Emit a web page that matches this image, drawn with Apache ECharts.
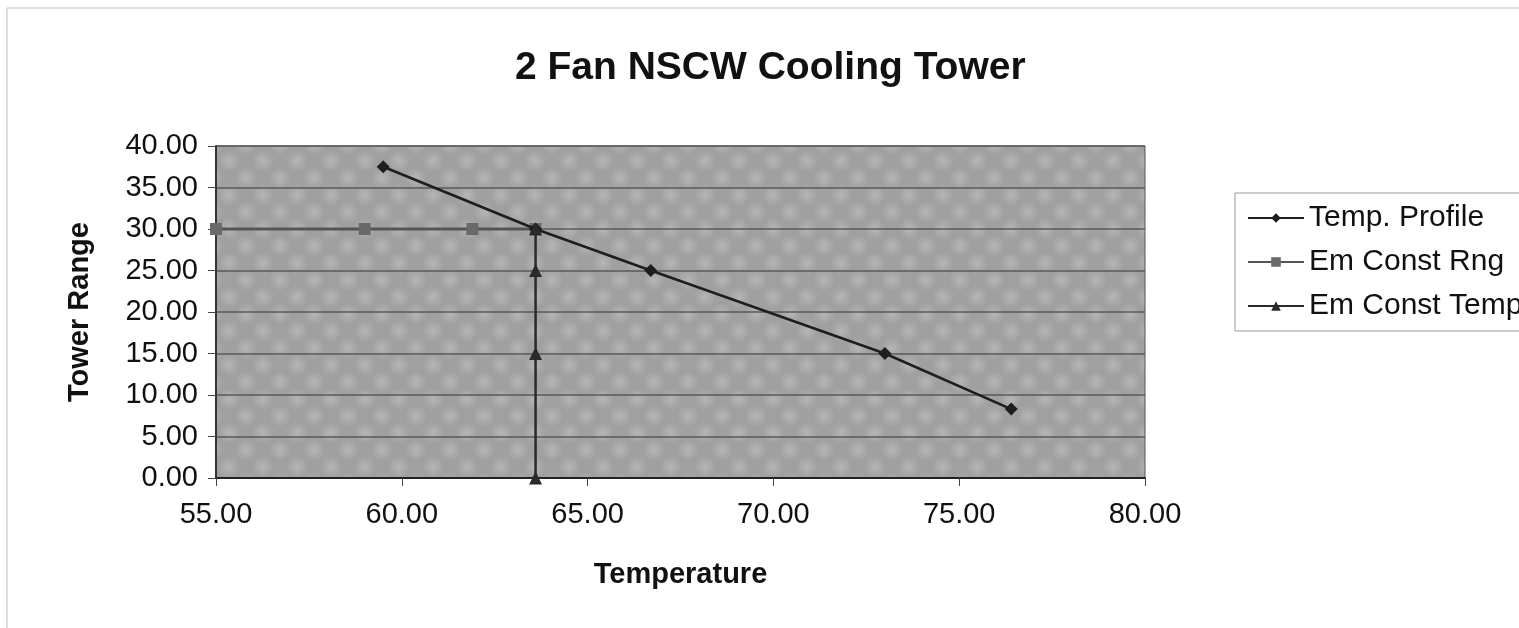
<!DOCTYPE html>
<html>
<head>
<meta charset="utf-8">
<script src="https://cdn.jsdelivr.net/npm/echarts@6/dist/echarts.min.js"></script>
<style>html,body{margin:0;padding:0;background:#fff}#c{width:1519px;height:628px}</style>
</head>
<body>
<div id="c"></div>
<script>
const tempProfileX = [59.5, 63.6, 66.7, 73.0, 76.4];
const tempProfileY = [37.5, 30.0, 25.0, 15.0, 8.3];
const rngX = [55.0, 59.0, 61.9, 63.6];
const rngY = [30.0, 30.0, 30.0, 30.0];
const constTempX = [63.6, 63.6, 63.6, 63.6];
const constTempY = [30.0, 25.0, 15.0, 0.0];
const xTicks = [55, 60, 65, 70, 75, 80];
const yTicks = [0, 5, 10, 15, 20, 25, 30, 35, 40];

const zip = (a, b) => a.map((v, i) => [v, b[i]]);
const FONT = 'Liberation Sans, Arial, sans-serif';

// textured plot-area fill (soft halftone-like gray)
const pat = document.createElement('canvas');
pat.width = 34; pat.height = 34;
(function () {
  const g = pat.getContext('2d');
  g.fillStyle = '#a0a0a0';
  g.fillRect(0, 0, 34, 34);
  const spots = [[8, 8], [25, 25], [42, 8], [-9, 25], [8, 42], [25, -9]];
  spots.forEach(([cx, cy]) => {
    const r = g.createRadialGradient(cx, cy, 0, cx, cy, 11);
    r.addColorStop(0, 'rgba(196,196,196,0.6)');
    r.addColorStop(1, 'rgba(196,196,196,0)');
    g.fillStyle = r;
    g.fillRect(cx - 12, cy - 12, 24, 24);
  });
})();

const chart = echarts.init(document.getElementById('c'), null, {renderer: 'canvas'});
chart.setOption({
  backgroundColor: '#ffffff',
  animation: false,
  title: {
    text: '2 Fan NSCW Cooling Tower',
    left: 510, top: 44,
    textStyle: {fontFamily: FONT, fontWeight: 'bold', fontSize: 39, color: '#111'}
  },
  graphic: [
    {type: 'rect', shape: {x: 7, y: 8, width: 1530, height: 640}, style: {fill: 'none', stroke: '#bbb', lineWidth: 1}, z: -1}
  ],
  legend: {
    left: 1235, top: 193,
    orient: 'vertical',
    itemWidth: 56, itemHeight: 12, itemGap: 14,
    padding: [10, 40, 10, 12],
    backgroundColor: '#fff',
    borderColor: '#999', borderWidth: 1,
    textStyle: {fontFamily: FONT, fontSize: 30, color: '#111'},
    data: ['Temp. Profile', 'Em Const Rng', 'Em Const Temp']
  },
  grid: {
    left: 216, right: 374, top: 146, bottom: 150,
    show: true, backgroundColor: {image: pat, repeat: 'repeat'}, borderColor: '#555', borderWidth: 1
  },
  xAxis: {
    type: 'value', min: xTicks[0], max: xTicks[xTicks.length - 1], interval: 5,
    name: 'Temperature', nameLocation: 'middle', nameGap: 82,
    nameTextStyle: {fontFamily: FONT, fontWeight: 'bold', fontSize: 29, color: '#111'},
    axisLine: {show: true, lineStyle: {color: '#222', width: 2}},
    axisTick: {show: true, inside: false, length: 8, lineStyle: {color: '#444'}},
    axisLabel: {fontFamily: FONT, fontSize: 29, color: '#111', margin: 22, formatter: v => v.toFixed(2)},
    splitLine: {show: false}
  },
  yAxis: {
    type: 'value', min: yTicks[0], max: yTicks[yTicks.length - 1], interval: 5,
    name: 'Tower Range', nameLocation: 'middle', nameGap: 122,
    nameTextStyle: {fontFamily: FONT, fontWeight: 'bold', fontSize: 29, color: '#111'},
    axisLine: {show: true, lineStyle: {color: '#333', width: 2}},
    axisTick: {show: true, inside: false, length: 8, lineStyle: {color: '#444'}},
    axisLabel: {fontFamily: FONT, fontSize: 29, color: '#111', margin: 18, formatter: v => v.toFixed(2)},
    splitLine: {show: true, lineStyle: {color: '#5a5a5a', width: 1.5}}
  },
  series: [
    {
      name: 'Temp. Profile', type: 'line', data: zip(tempProfileX, tempProfileY),
      symbol: 'diamond', symbolSize: 13,
      lineStyle: {color: '#1e1e1e', width: 2.5},
      itemStyle: {color: '#1e1e1e'}, z: 4
    },
    {
      name: 'Em Const Rng', type: 'line', data: zip(rngX, rngY),
      symbol: 'rect', symbolSize: 12,
      lineStyle: {color: '#555555', width: 3},
      itemStyle: {color: '#6a6a6a'}, z: 3
    },
    {
      name: 'Em Const Temp', type: 'line', data: zip(constTempX, constTempY),
      symbol: 'triangle', symbolSize: 13,
      lineStyle: {color: '#2a2a2a', width: 2.5},
      itemStyle: {color: '#2a2a2a'}, z: 5
    }
  ]
});
</script>
</body>
</html>
